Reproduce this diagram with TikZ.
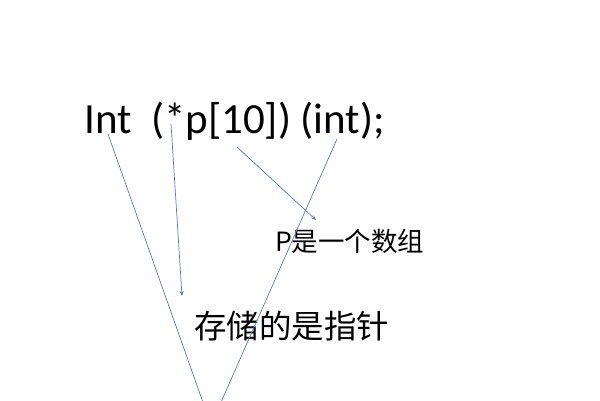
\documentclass[tikz,border=0pt]{standalone}
\usepackage{fontspec}
\setmainfont{Carlito}
\newfontfamily\cjk{Noto Sans CJK SC}
\usetikzlibrary{arrows.meta}
\definecolor{lineBlue}{RGB}{84,122,196}

\begin{document}
\begin{tikzpicture}[
  x=1pt, y=-1pt,
  label/.style={inner sep=0pt, anchor=base west},
  flow/.style={-{Stealth[length=5pt,width=4pt]}, line width=0.7pt, lineBlue}]

\useasboundingbox (0,0) rectangle (600,400);
\clip (0,0) rectangle (600,400);

% The declaration and the two notes
\node[label, font=\fontsize{43}{50}\selectfont] (declaration) at (84,133) {Int\ \ (*p[10]) (int);};
\node[label, font=\cjk\fontsize{26.5}{30}\selectfont] (arrayNote) at (275,251) {P是一个数组};
\node[label, font=\cjk\fontsize{32.5}{38}\selectfont] (pointerNote) at (194,338) {存储的是指针};

% Where the arrows start and end
\coordinate (fromInt) at (108,134);
\coordinate (fromStar) at (171,124);
\coordinate (fromArray) at (237,147);
\coordinate (fromParen) at (337,139);
\coordinate (toPointer) at (182,296);
\coordinate (toArray) at (316,220);
\coordinate (below) at (211,425);

% Draw the arrows
\draw [flow] (fromInt) -- (below);
\draw [flow] (fromStar) -- (toPointer);
\draw [flow] (fromArray) -- (toArray);
\draw [flow] (fromParen) -- (below);

\end{tikzpicture}
\end{document}
